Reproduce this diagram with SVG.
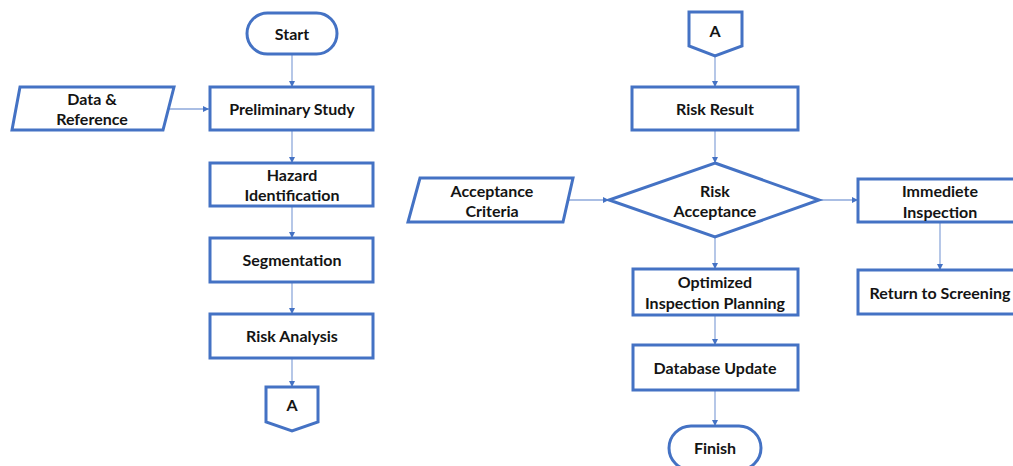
<svg xmlns="http://www.w3.org/2000/svg" width="1013" height="466" viewBox="0 0 1013 466">
  <style>
    .shape { fill: #ffffff; stroke: #4472C4; stroke-width: 3; stroke-linejoin: miter; }
    .conn { fill: none; stroke: #8EA9DB; stroke-width: 1.3; }
    .lbl { font-family: "Lato", "Liberation Sans", sans-serif; font-weight: bold; font-size: 16px; fill: #141414; text-anchor: middle; }
  </style>
  <defs>
    <marker id="arrow" markerUnits="userSpaceOnUse" markerWidth="7" markerHeight="7" refX="6" refY="3.5" orient="auto">
      <path d="M0,0.5 L6,3.5 L0,6.5 Z" fill="#4472C4"/>
    </marker>
  </defs>
  <rect width="1013" height="466" fill="#ffffff"/>

  <!-- connectors -->
  <g id="connectors">
    <line class="conn" x1="292" y1="55" x2="292" y2="87" marker-end="url(#arrow)"/>
    <line class="conn" x1="169" y1="109" x2="209" y2="109" marker-end="url(#arrow)"/>
    <line class="conn" x1="292" y1="130" x2="292" y2="163" marker-end="url(#arrow)"/>
    <line class="conn" x1="292" y1="206" x2="292" y2="238" marker-end="url(#arrow)"/>
    <line class="conn" x1="292" y1="282" x2="292" y2="314" marker-end="url(#arrow)"/>
    <line class="conn" x1="292" y1="358" x2="292" y2="387" marker-end="url(#arrow)"/>
    <line class="conn" x1="715" y1="56" x2="715" y2="87" marker-end="url(#arrow)"/>
    <line class="conn" x1="715" y1="130" x2="715" y2="163" marker-end="url(#arrow)"/>
    <line class="conn" x1="568" y1="200" x2="609" y2="200" marker-end="url(#arrow)"/>
    <line class="conn" x1="819" y1="200" x2="858" y2="200" marker-end="url(#arrow)"/>
    <line class="conn" x1="715" y1="237" x2="715" y2="269" marker-end="url(#arrow)"/>
    <line class="conn" x1="940" y1="222" x2="940" y2="270" marker-end="url(#arrow)"/>
    <line class="conn" x1="715" y1="315" x2="715" y2="345" marker-end="url(#arrow)"/>
    <line class="conn" x1="715" y1="390" x2="715" y2="426" marker-end="url(#arrow)"/>
  </g>

  <!-- left column -->
  <g id="start">
    <rect class="shape" x="247" y="13" width="90" height="41" rx="20.5"/>
    <text class="lbl" x="292" y="40">Start</text>
  </g>
  <g id="data-reference">
    <polygon class="shape" points="20,87 174,87 163,130 12,130"/>
    <text class="lbl" x="92" y="105">Data &amp;</text>
    <text class="lbl" x="92" y="125">Reference</text>
  </g>
  <g id="preliminary-study">
    <rect class="shape" x="210" y="87" width="163" height="43"/>
    <text class="lbl" x="292" y="115">Preliminary Study</text>
  </g>
  <g id="hazard-identification">
    <rect class="shape" x="210" y="163" width="163" height="43"/>
    <text class="lbl" x="292" y="181">Hazard</text>
    <text class="lbl" x="292" y="201">Identification</text>
  </g>
  <g id="segmentation">
    <rect class="shape" x="210" y="238" width="163" height="44"/>
    <text class="lbl" x="292" y="266">Segmentation</text>
  </g>
  <g id="risk-analysis">
    <rect class="shape" x="210" y="314" width="163" height="44"/>
    <text class="lbl" x="292" y="342">Risk Analysis</text>
  </g>
  <g id="connector-a-out">
    <polygon class="shape" points="266,387 318,387 318,422 292,431 266,422"/>
    <text class="lbl" x="292" y="411">A</text>
  </g>

  <!-- right column -->
  <g id="connector-a-in">
    <polygon class="shape" points="689,12 742,12 742,46 715,56 689,46"/>
    <text class="lbl" x="715" y="37">A</text>
  </g>
  <g id="risk-result">
    <rect class="shape" x="632" y="87" width="166" height="43"/>
    <text class="lbl" x="715" y="115">Risk Result</text>
  </g>
  <g id="acceptance-criteria">
    <polygon class="shape" points="420,178 573,178 563,222 408,222"/>
    <text class="lbl" x="492" y="197">Acceptance</text>
    <text class="lbl" x="492" y="217">Criteria</text>
  </g>
  <g id="risk-acceptance">
    <polygon class="shape" points="715,163 819,200 715,237 609,200"/>
    <text class="lbl" x="715" y="197">Risk</text>
    <text class="lbl" x="715" y="217">Acceptance</text>
  </g>
  <g id="immediete-inspection">
    <rect class="shape" x="858" y="179" width="160" height="43"/>
    <text class="lbl" x="940" y="197">Immediete</text>
    <text class="lbl" x="940" y="218">Inspection</text>
  </g>
  <g id="return-to-screening">
    <rect class="shape" x="858" y="270" width="160" height="44"/>
    <text class="lbl" x="940" y="299">Return to Screening</text>
  </g>
  <g id="optimized-inspection-planning">
    <rect class="shape" x="633" y="269" width="165" height="46"/>
    <text class="lbl" x="715" y="288">Optimized</text>
    <text class="lbl" x="715" y="309">Inspection Planning</text>
  </g>
  <g id="database-update">
    <rect class="shape" x="633" y="345" width="165" height="45"/>
    <text class="lbl" x="715" y="374">Database Update</text>
  </g>
  <g id="finish">
    <rect class="shape" x="669" y="426" width="92" height="44" rx="22"/>
    <text class="lbl" x="715" y="454">Finish</text>
  </g>
</svg>
